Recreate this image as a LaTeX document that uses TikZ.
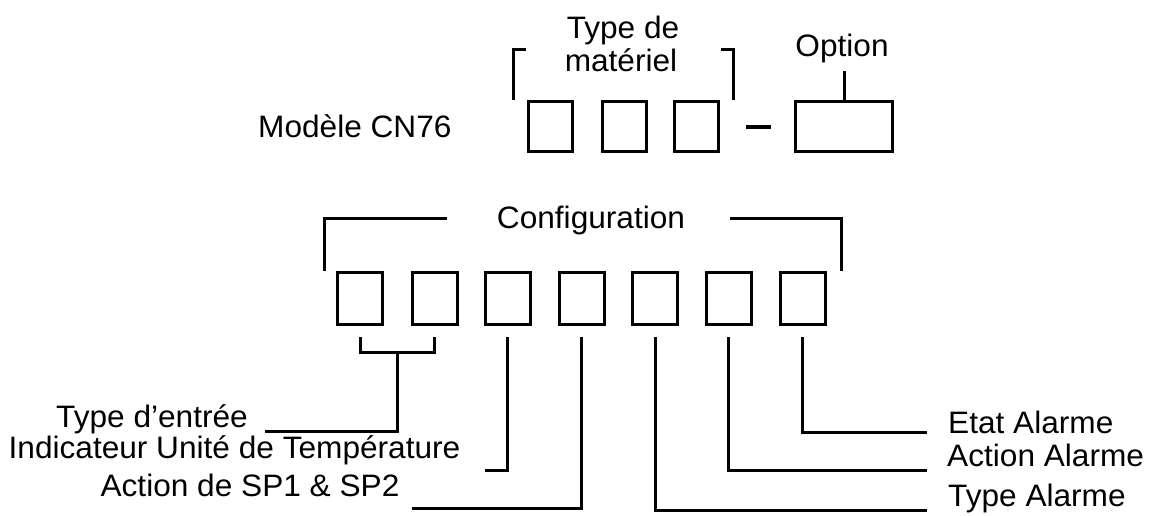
\documentclass[tikz,border=0pt]{standalone}
\usepackage{fontspec}
\setmainfont{Liberation Sans}[FakeStretch=1.02]
\usetikzlibrary{calc}
\begin{document}
\begin{tikzpicture}[x=1pt,y=-1pt,
  txt/.style={inner sep=0pt,font=\fontsize{31pt}{36pt}\selectfont},
  topbox/.style={draw,line width=3pt,minimum width=44pt,minimum height=50pt,inner sep=0pt},
  optbox/.style={draw,line width=3pt,minimum width=97pt,minimum height=50pt,inner sep=0pt},
  cfgbox/.style={draw,line width=3pt,minimum width=45pt,minimum height=52pt,inner sep=0pt},
  brk/.style={line width=3pt,line join=miter},
  conn/.style={line width=3pt,line join=miter}]
\useasboundingbox (0,0) rectangle (1153,515);
% top row
\node[txt,anchor=base west] (modele) at (258,137) {Modèle CN76};
\node[topbox] (t1) at (550.5,126.5) {};
\node[topbox] (t2) at (624,126.5) {};
\node[topbox] (t3) at (696.5,126.5) {};
\node[optbox] (opt) at (844,126.5) {};
\draw[line width=3.5pt] (746,127) -- (771,127);
\node[txt,anchor=base] (typede) at (623,38) {Type de};
\node[txt,anchor=base] (materiel) at (621,71) {matériel};
\node[txt,anchor=base] (option) at (842,56) {Option};
\draw[brk] (513,100) -- (513,49) -- (526,49);
\draw[brk] (721,49) -- (733,49) -- (733,100);
\draw[conn] (opt.north) -- ++(0,-29);
% configuration
\node[txt,anchor=base] (config) at (591,228) {Configuration};
\draw[brk] (324,271) -- (324,218) -- (447,218);
\draw[brk] (730,218) -- (841,218) -- (841,271);
\node[cfgbox] (c1) at (360,298.5) {};
\node[cfgbox] (c2) at (434.5,298.5) {};
\node[cfgbox] (c3) at (507.5,298.5) {};
\node[cfgbox] (c4) at (581.5,298.5) {};
\node[cfgbox] (c5) at (655,298.5) {};
\node[cfgbox] (c6) at (728.5,298.5) {};
\node[cfgbox] (c7) at (802.5,298.5) {};
% labels
\node[txt,anchor=base east] (lt1) at (248,427) {Type d’entrée};
\node[txt,anchor=base] (lt2) at (234.5,458) {Indicateur Unité de Température};
\node[txt,anchor=base] (lt3) at (250,496) {Action de SP1 \& SP2};
\node[txt,anchor=base west] (lt4) at (948,433) {Etat Alarme};
\node[txt,anchor=base west] (lt5) at (947,466) {Action Alarme};
\node[txt,anchor=base west] (lt6) at (948,506) {Type Alarme};
\coordinate (e1) at (265,431);
\coordinate (e2) at (485,470);
\coordinate (e3) at (412,508);
\coordinate (e4) at (927,432);
\coordinate (e5) at (927,470);
\coordinate (e6) at (927,510);
% connectors
\draw[conn] ([yshift=-11pt]c1.south) -- ++(0,15) -| ([yshift=-11pt]c2.south);
\coordinate (jt) at ($($(c1.south)!0.5!(c2.south)$)+(0,26)$);
\draw[conn] (jt) |- (e1);
\draw[conn] ([yshift=-11pt]c3.south) |- (e2);
\draw[conn] ([yshift=-11pt]c4.south) |- (e3);
\draw[conn] ([yshift=-11pt]c5.south) |- (e6);
\draw[conn] ([yshift=-11pt]c6.south) |- (e5);
\draw[conn] ([yshift=-11pt]c7.south) |- (e4);
\end{tikzpicture}
\end{document}
